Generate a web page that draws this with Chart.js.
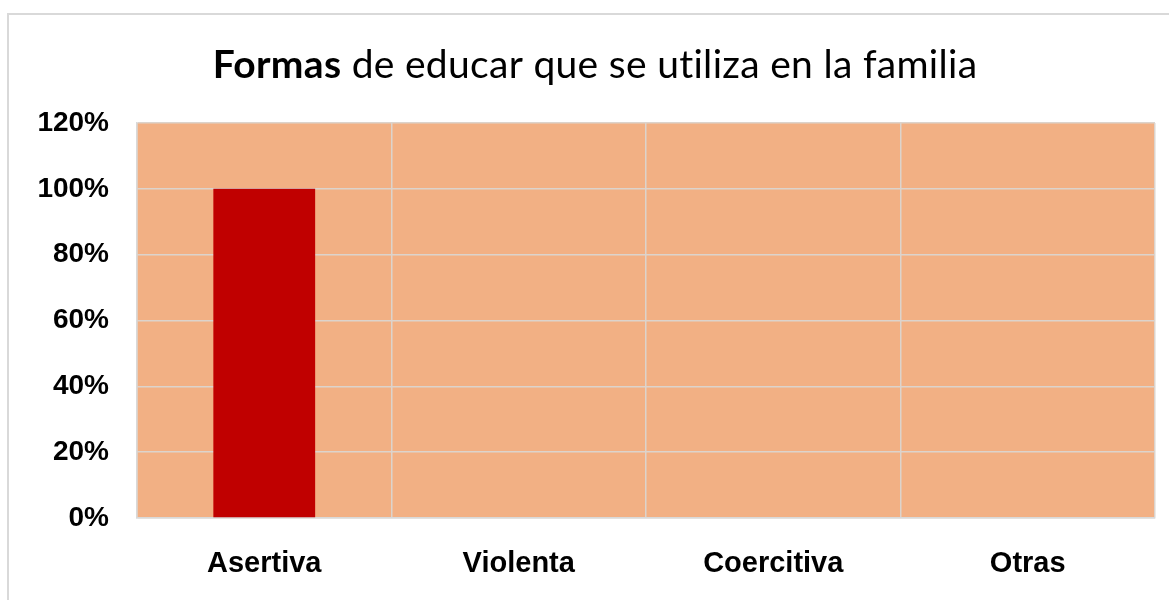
<!DOCTYPE html>
<html>
<head>
<meta charset="utf-8">
<script src="https://cdn.jsdelivr.net/npm/chart.js@4.4.0/dist/chart.umd.min.js"></script>
<style>
  html, body { margin: 0; padding: 0; background: #fff; }
  #wrap { width: 1169px; height: 600px; position: relative; }
</style>
</head>
<body>
<div id="wrap"><canvas id="barchart"></canvas></div>
<script>
var formas = ["Asertiva", "Violenta", "Coercitiva", "Otras"];
var porcentaje = [1.0, 0, 0, 0];
var yTicks = [0, 0.2, 0.4, 0.6, 0.8, 1.0, 1.2];
var titleBold = "Formas";
var titleRest = " de educar que se utiliza en la familia";

var frame = {
  id: "frame",
  beforeDraw: function (chart) {
    var ctx = chart.ctx, a = chart.chartArea;
    ctx.save();
    ctx.fillStyle = "#fff";
    ctx.fillRect(0, 0, chart.width, chart.height);
    ctx.strokeStyle = "#d9d9d9";
    ctx.lineWidth = 2;
    ctx.strokeRect(8, 14, chart.width + 20, chart.height + 20);
    ctx.fillStyle = "#f2b084";
    ctx.fillRect(a.left, a.top, a.right - a.left, a.bottom - a.top);
    ctx.restore();
  },
  afterDraw: function (chart) {
    var ctx = chart.ctx;
    ctx.save();
    ctx.fillStyle = "#000";
    ctx.textBaseline = "alphabetic";
    ctx.letterSpacing = "0.3px"; // keeps "ti" from turning into a ligature
    var size = 39;
    var fb = "bold " + size + "px Lato", fn = size + "px Lato";
    ctx.font = fb;
    var wb = ctx.measureText(titleBold).width;
    ctx.font = fn;
    var wn = ctx.measureText(titleRest).width;
    var x0 = 595 - (wb + wn) / 2;
    ctx.font = fb;
    ctx.fillText(titleBold, x0, 78);
    ctx.font = fn;
    ctx.fillText(titleRest, x0 + wb, 78);
    ctx.restore();
  }
};

new Chart("barchart", {
  type: "bar",
  data: {
    labels: formas,
    datasets: [{
      data: porcentaje,
      backgroundColor: "#c00000",
      barPercentage: 0.4,
      categoryPercentage: 1.0
    }]
  },
  options: {
    responsive: true,
    maintainAspectRatio: false,
    animation: false,
    layout: { padding: { top: 123, right: 14, left: 0, bottom: 0 } },
    plugins: {
      legend: { display: false },
      title: { display: false },
      tooltip: { enabled: false }
    },
    scales: {
      x: {
        grid: { color: "#dcd3cc", lineWidth: 1.5, drawTicks: false },
        border: { color: "#d9d9d9", width: 1.5 },
        ticks: {
          color: "#000",
          padding: 29,
          font: { family: "Liberation Sans", weight: "bold", size: 29 }
        },
        afterFit: function (s) { s.height = 82; }
      },
      y: {
        min: 0,
        max: 1.2,
        grid: { color: "#dcd3cc", lineWidth: 1.5, drawTicks: false },
        border: { color: "#d9d9d9", width: 1.5 },
        afterBuildTicks: function (s) {
          s.ticks = yTicks.map(function (v) { return { value: v }; });
        },
        ticks: {
          color: "#000",
          padding: 28,
          font: { family: "Liberation Sans", weight: "bold", size: 28 },
          callback: function (v) { return Math.round(v * 100) + "%"; }
        },
        afterFit: function (s) { s.width = 137; }
      }
    }
  },
  plugins: [frame]
});
</script>
</body>
</html>
